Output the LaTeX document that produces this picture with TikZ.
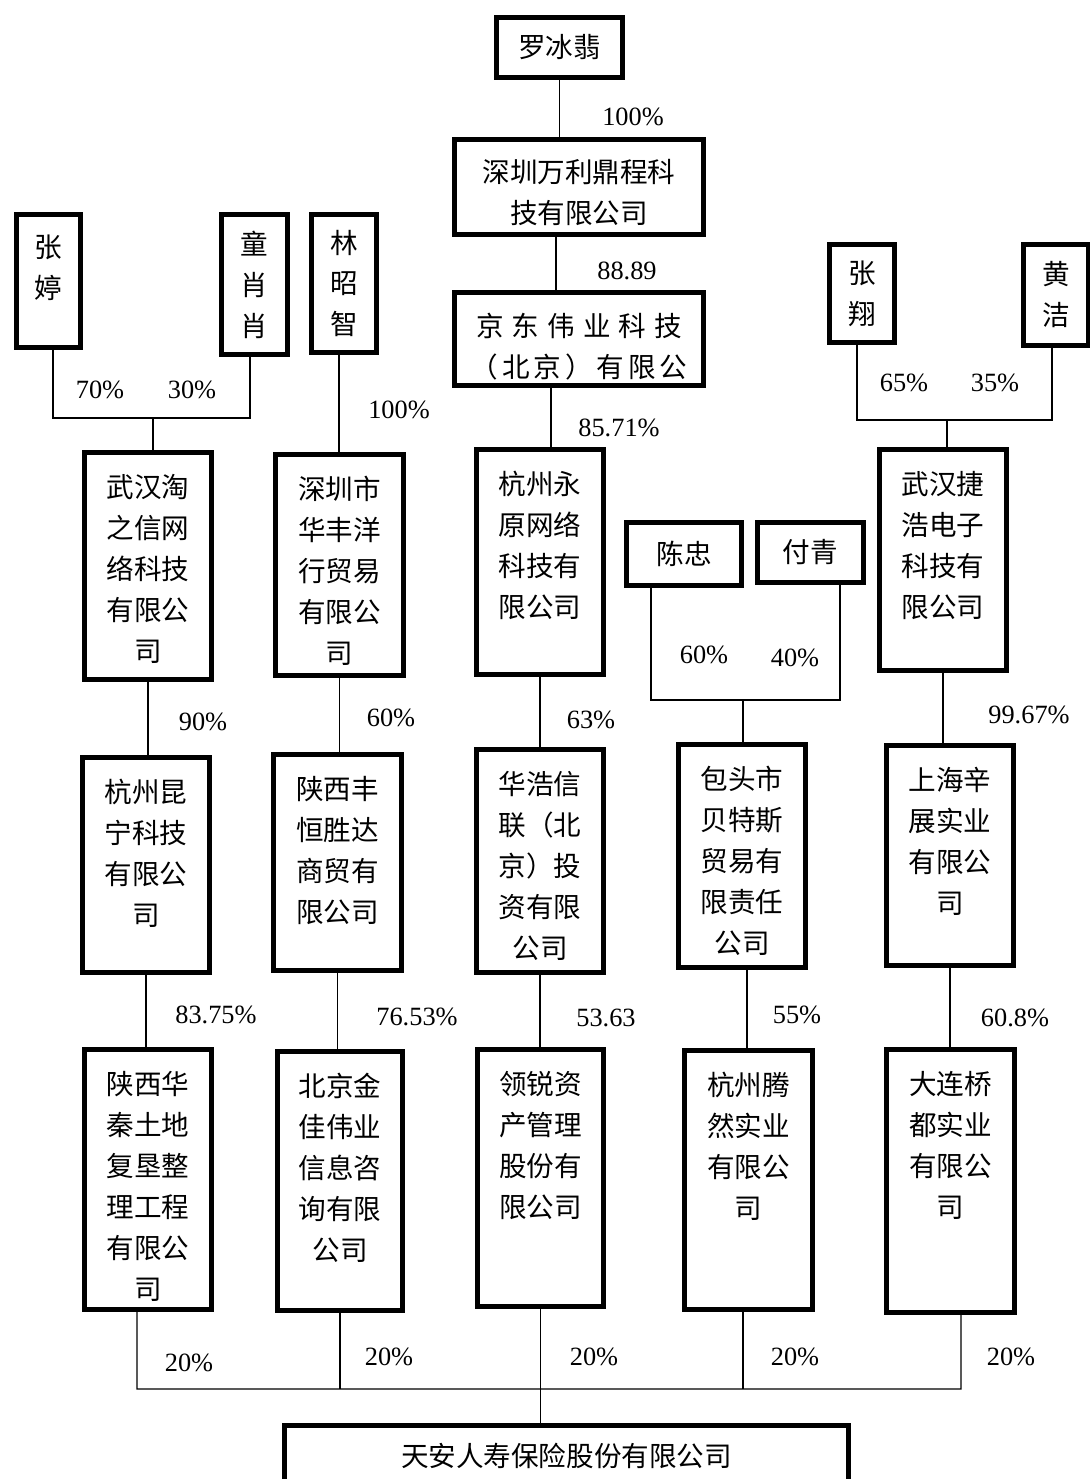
\documentclass[tikz,border=0pt]{standalone}
\usepackage{fontspec}
\setmainfont{Liberation Serif}
\newfontfamily\cjk{Noto Sans CJK SC}
\tikzset{
  gongsi/.style={rectangle, draw=black, line width=2.6pt, inner sep=0pt, align=center, font=\cjk\fontsize{15.7}{23.3}\selectfont},
  wenzi/.style={anchor=north, inner sep=0pt, align=center, font=\cjk\fontsize{15.7}{23.3}\selectfont},
  bili/.style={inner sep=0pt, font=\fontsize{15}{18}\selectfont},
  xian/.style={line width=0.8pt}
}
\begin{document}
\begin{tikzpicture}[x=0.02cm, y=-0.02cm]
  \useasboundingbox (0,0) rectangle (1089,1479);
  % top chain
  \node (luo) [gongsi, minimum width=2.52cm, minimum height=1.2cm] at (559.5,47.5) {罗冰翡};
  \node (wanli) [gongsi, minimum width=4.98cm, minimum height=1.9cm] at (579,187) {};
  \node (wanli-t) [wenzi] at ([yshift=-0.44cm]wanli.north) {深圳万利鼎程科\\技有限公司};
  \node (jingdong) [gongsi, minimum width=4.98cm, minimum height=1.86cm] at (579,339) {};
  \node (jingdong-t) [wenzi] at ([yshift=-0.46cm]jingdong.north) {\addfontfeature{LetterSpace=29}京东伟业科技\\\addfontfeature{LetterSpace=14}（北京）有限公};
  % shareholders
  \node (zhangting) [gongsi, minimum width=1.28cm, minimum height=2.66cm] at (48.5,281) {};
  \node (zhangting-t) [wenzi] at ([yshift=-0.44cm]zhangting.north) {张\\婷};
  \node (tongxx) [gongsi, minimum width=1.32cm, minimum height=2.8cm] at (254.5,284.5) {童\\肖\\肖};
  \node (linzz) [gongsi, minimum width=1.3cm, minimum height=2.76cm] at (344,283.5) {林\\昭\\智};
  \node (zhangxiang) [gongsi, minimum width=1.3cm, minimum height=1.96cm] at (862,293.5) {张\\翔};
  \node (huangjie) [gongsi, minimum width=1.3cm, minimum height=2.02cm] at (1056,295) {黄\\洁};
  \node (chenzhong) [gongsi, minimum width=2.3cm, minimum height=1.26cm] at (684,554) {陈忠};
  \node (fuqing) [gongsi, minimum width=2.12cm, minimum height=1.2cm] at (810.5,552.5) {付青};
  % second row
  \node (wuhantao) [gongsi, minimum width=2.54cm, minimum height=4.54cm] at (148,566) {};
  \node (wuhantao-t) [wenzi] at ([yshift=-0.47cm]wuhantao.north) {武汉淘\\之信网\\络科技\\有限公\\司};
  \node (huafeng) [gongsi, minimum width=2.56cm, minimum height=4.42cm] at (339.5,565) {};
  \node (huafeng-t) [wenzi] at ([yshift=-0.47cm]huafeng.north) {深圳市\\华丰洋\\行贸易\\有限公\\司};
  \node (yongyuan) [gongsi, minimum width=2.54cm, minimum height=4.5cm] at (540,562) {};
  \node (yongyuan-t) [wenzi] at ([yshift=-0.47cm]yongyuan.north) {杭州永\\原网络\\科技有\\限公司};
  \node (jiehao) [gongsi, minimum width=2.54cm, minimum height=4.42cm] at (943,560) {};
  \node (jiehao-t) [wenzi] at ([yshift=-0.47cm]jiehao.north) {武汉捷\\浩电子\\科技有\\限公司};
  % third row
  \node (kunning) [gongsi, minimum width=2.54cm, minimum height=4.3cm] at (146,865) {};
  \node (kunning-t) [wenzi] at ([yshift=-0.47cm]kunning.north) {杭州昆\\宁科技\\有限公\\司};
  \node (hengsheng) [gongsi, minimum width=2.56cm, minimum height=4.32cm] at (337.5,862.5) {};
  \node (hengsheng-t) [wenzi] at ([yshift=-0.47cm]hengsheng.north) {陕西丰\\恒胜达\\商贸有\\限公司};
  \node (haoxin) [gongsi, minimum width=2.54cm, minimum height=4.46cm] at (540,861) {};
  \node (haoxin-t) [wenzi] at ([yshift=-0.47cm]haoxin.north) {华浩信\\联（北\\京）投\\资有限\\公司};
  \node (beitesi) [gongsi, minimum width=2.54cm, minimum height=4.46cm] at (742,856) {};
  \node (beitesi-t) [wenzi] at ([yshift=-0.47cm]beitesi.north) {包头市\\贝特斯\\贸易有\\限责任\\公司};
  \node (xinzhan) [gongsi, minimum width=2.54cm, minimum height=4.4cm] at (950,855.5) {};
  \node (xinzhan-t) [wenzi] at ([yshift=-0.47cm]xinzhan.north) {上海辛\\展实业\\有限公\\司};
  % fourth row
  \node (huaqin) [gongsi, minimum width=2.54cm, minimum height=5.2cm] at (148,1179.5) {};
  \node (huaqin-t) [wenzi] at ([yshift=-0.47cm]huaqin.north) {陕西华\\秦土地\\复垦整\\理工程\\有限公\\司};
  \node (jinjia) [gongsi, minimum width=2.5cm, minimum height=5.18cm] at (340,1181) {};
  \node (jinjia-t) [wenzi] at ([yshift=-0.47cm]jinjia.north) {北京金\\佳伟业\\信息咨\\询有限\\公司};
  \node (lingrui) [gongsi, minimum width=2.52cm, minimum height=5.14cm] at (540.5,1178) {};
  \node (lingrui-t) [wenzi] at ([yshift=-0.47cm]lingrui.north) {领锐资\\产管理\\股份有\\限公司};
  \node (tengran) [gongsi, minimum width=2.56cm, minimum height=5.18cm] at (748.5,1180) {};
  \node (tengran-t) [wenzi] at ([yshift=-0.47cm]tengran.north) {杭州腾\\然实业\\有限公\\司};
  \node (qiaodu) [gongsi, minimum width=2.56cm, minimum height=5.26cm] at (950.5,1181) {};
  \node (qiaodu-t) [wenzi] at ([yshift=-0.47cm]qiaodu.north) {大连桥\\都实业\\有限公\\司};
  % target
  \node (tianan) [gongsi, minimum width=11.28cm, minimum height=2cm] at (566.5,1475.5) {};
  \node (tianan-t) [wenzi, anchor=center] at ([yshift=-0.66cm]tianan.north) {天安人寿保险股份有限公司};

  % shares
  \node (p-luo) [bili] at (633,117) {100\%};
  \node (p-wanli) [bili] at (627,271) {88.89};
  \node (p-jingdong) [bili] at (619,428) {85.71\%};
  \node (p-zhangting) [bili] at (100,390) {70\%};
  \node (p-tongxx) [bili] at (192,390) {30\%};
  \node (p-linzz) [bili] at (399,410) {100\%};
  \node (p-zhangxiang) [bili] at (904,383) {65\%};
  \node (p-huangjie) [bili] at (995,383) {35\%};
  \node (p-chenzhong) [bili] at (704,655) {60\%};
  \node (p-fuqing) [bili] at (795,658) {40\%};
  \node (p-wuhantao) [bili] at (203,722) {90\%};
  \node (p-huafeng) [bili] at (391,718) {60\%};
  \node (p-yongyuan) [bili] at (591,720) {63\%};
  \node (p-jiehao) [bili] at (1029,715) {99.67\%};
  \node (p-kunning) [bili] at (216,1015) {83.75\%};
  \node (p-hengsheng) [bili] at (417,1017) {76.53\%};
  \node (p-haoxin) [bili] at (606,1018) {53.63};
  \node (p-beitesi) [bili] at (797,1015) {55\%};
  \node (p-xinzhan) [bili] at (1015,1018) {60.8\%};
  \node (p-huaqin) [bili] at (189,1363) {20\%};
  \node (p-jinjia) [bili] at (389,1357) {20\%};
  \node (p-lingrui) [bili] at (594,1357) {20\%};
  \node (p-tengran) [bili] at (795,1357) {20\%};
  \node (p-qiaodu) [bili] at (1011,1357) {20\%};

  % ownership lines
  \draw [xian] (luo.south) -- (luo.south |- wanli.north);
  \draw [xian] ([xshift=-0.46cm]wanli.south) -- ([xshift=-0.46cm]wanli.south |- jingdong.north);
  \draw [xian] ([xshift=-0.56cm]jingdong.south) -- ([xshift=-0.56cm]jingdong.south |- yongyuan.north);
  \coordinate (jTao) at (153,418);
  \draw [xian] ([xshift=0.09cm]zhangting.south) |- (jTao) -| ([xshift=-0.09cm]tongxx.south);
  \draw [xian] (jTao) -- (jTao |- wuhantao.north);
  \draw [xian] ([xshift=-0.1cm]linzz.south) -- ([xshift=-0.1cm]linzz.south |- huafeng.north);
  \coordinate (jJie) at (947,420);
  \draw [xian] ([xshift=-0.1cm]zhangxiang.south) |- (jJie) -| ([xshift=-0.08cm]huangjie.south);
  \draw [xian] (jJie) -- (jJie |- jiehao.north);
  \coordinate (jBao) at (743,700);
  \draw [xian] ([xshift=-0.66cm]chenzhong.south) |- (jBao) -| ([xshift=0.59cm]fuqing.south);
  \draw [xian] (jBao) -- (jBao |- beitesi.north);
  \draw [xian] (wuhantao.south) -- (wuhantao.south |- kunning.north);
  \draw [xian] (huafeng.south) -- (huafeng.south |- hengsheng.north);
  \draw [xian] (yongyuan.south) -- (yongyuan.south |- haoxin.north);
  \draw [xian] (jiehao.south) -- (jiehao.south |- xinzhan.north);
  \draw [xian] (kunning.south) -- (kunning.south |- huaqin.north);
  \draw [xian] (hengsheng.south) -- (hengsheng.south |- jinjia.north);
  \draw [xian] (haoxin.south) -- (haoxin.south |- lingrui.north);
  \draw [xian] ([xshift=0.1cm]beitesi.south) -- ([xshift=0.1cm]beitesi.south |- tengran.north);
  \draw [xian] (xinzhan.south) -- (xinzhan.south |- qiaodu.north);
  \coordinate (zongxian) at (961,1389);
  \draw [xian] ([xshift=-0.22cm]huaqin.south) |- (zongxian) -- ([xshift=0.21cm]qiaodu.south);
  \draw [xian] (jinjia.south) -- (jinjia.south |- zongxian);
  \draw [xian] ([xshift=-0.11cm]tengran.south) -- ([xshift=-0.11cm]tengran.south |- zongxian);
  \draw [xian] (lingrui.south) -- (lingrui.south |- tianan.north);
\end{tikzpicture}
\end{document}
